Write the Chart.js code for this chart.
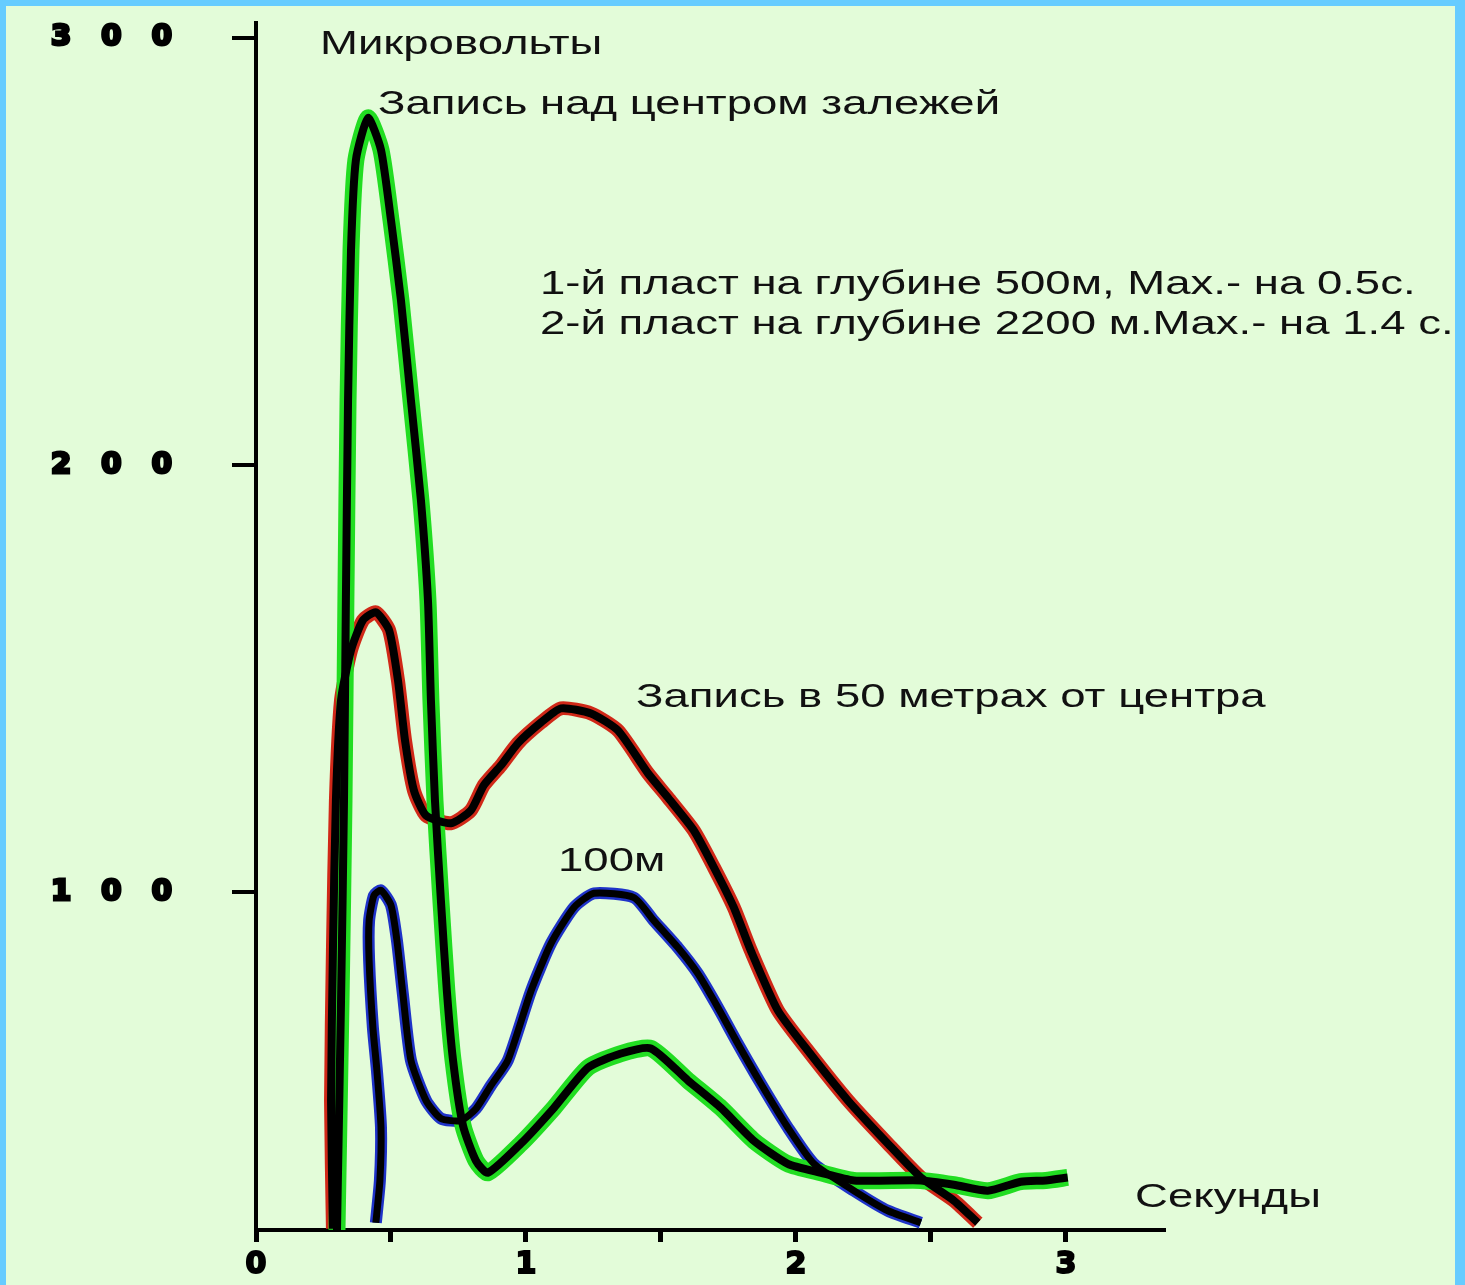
<!DOCTYPE html>
<html>
<head>
<meta charset="utf-8">
<script src="https://cdn.jsdelivr.net/npm/chart.js@4.4.0/dist/chart.umd.min.js"></script>
<style>
    html, body { margin: 0; padding: 0; width: 1465px; height: 1285px; overflow: hidden; background: #66ccff; }
    #paper { position: absolute; left: 6px; top: 6px; width: 1449px; height: 1279px; background: #e3fcd9; }
    #wrap { position: absolute; left: 0; top: 0; width: 1465px; height: 1285px; }
</style>
</head>
<body>
<div id="paper"></div>
<div id="wrap"><canvas id="chart"></canvas></div>
<script>
// Запись над центром залежей (зелёная)
const centerTime  = [0.30, 0.315, 0.326, 0.333, 0.341, 0.352, 0.370, 0.415, 0.463, 0.500, 0.537, 0.574, 0.611, 0.637, 0.648, 0.663, 0.685, 0.707, 0.730, 0.767, 0.815, 0.859, 0.981, 1.104, 1.230, 1.352, 1.463, 1.600, 1.722, 1.844, 1.970, 2.093, 2.215, 2.463, 2.585, 2.711, 2.833, 2.926, 3.007];
const centerVolts = [21, 74.7, 121.5, 168.4, 215.2, 250.4, 271.4, 281.3, 273.8, 257.4, 238.6, 215.2, 191.8, 168.4, 145.0, 121.5, 98.1, 77.0, 60.7, 45.4, 37.2, 34.4, 41.2, 49.6, 59.0, 62.3, 63.5, 56.0, 49.6, 41.9, 36.5, 34.4, 32.6, 32.6, 31.6, 30.2, 32.3, 32.6, 33.3];

// Запись в 50 метрах от центра (красная)
const m50Time  = [0.285, 0.278, 0.285, 0.296, 0.315, 0.352, 0.396, 0.444, 0.493, 0.526, 0.552, 0.585, 0.630, 0.722, 0.796, 0.844, 0.907, 0.970, 1.056, 1.130, 1.241, 1.341, 1.452, 1.526, 1.622, 1.696, 1.770, 1.833, 1.933, 2.044, 2.193, 2.341, 2.463, 2.585, 2.674];
const m50Volts = [21.3, 51.3, 86.4, 121.5, 145.0, 156.7, 163.7, 165.6, 161.4, 149.6, 135.6, 123.9, 118.0, 116.2, 119.2, 125.1, 129.7, 134.9, 139.8, 143.1, 141.9, 137.9, 127.9, 122.2, 114.5, 105.9, 96.5, 86.4, 72.4, 63.0, 51.3, 41.2, 33.3, 27.9, 22.7];

// 100 м (синяя)
const m100Time  = [0.444, 0.459, 0.463, 0.448, 0.433, 0.419, 0.419, 0.437, 0.463, 0.500, 0.522, 0.544, 0.574, 0.630, 0.685, 0.759, 0.815, 0.870, 0.933, 1.019, 1.093, 1.178, 1.252, 1.400, 1.474, 1.563, 1.637, 1.711, 1.785, 1.870, 1.970, 2.067, 2.215, 2.341, 2.463];
const m100Volts = [22.7, 32.6, 45.0, 58.3, 68.4, 84.1, 93.4, 99.3, 100.5, 97.0, 88.8, 76.3, 60.7, 51.3, 47.1, 46.6, 49.4, 54.8, 60.7, 77.0, 88.1, 96.5, 99.8, 98.8, 93.4, 87.1, 81.0, 73.1, 64.6, 55.3, 45.0, 36.5, 30.2, 25.5, 22.7];

const xTicks = [0, 0.5, 1, 1.5, 2, 2.5, 3];
const yTicks = [100, 200, 300];

const notes = [
    'Микровольты',
    'Запись над центром залежей',
    '1-й пласт на глубине 500м, Max.- на 0.5с.',
    '2-й пласт на глубине 2200 м.Max.- на 1.4 с.',
    'Запись в 50 метрах от центра',
    '100м',
    'Секунды'
];

function toPoints(xs, ys) {
    return xs.map((x, i) => ({ x: x, y: ys[i] }));
}

function trace(data, color, width) {
    return {
        data: data,
        borderColor: color,
        borderWidth: width,
        pointRadius: 0,
        tension: 0.2,
        fill: false
    };
}

const centerData = toPoints(centerTime, centerVolts);
const m50Data = toPoints(m50Time, m50Volts);
const m100Data = toPoints(m100Time, m100Volts);

// подписи на поле графика (растянуты по горизонтали, как на скане)
const notesPlugin = {
    id: 'notes',
    afterDraw(chart) {
        const ctx = chart.ctx;
        const place = [
            [320, 45], [378, 105], [540, 285], [540, 325], [636, 698], [558, 862], [1135, 1198]
        ];
        ctx.save();
        ctx.font = '33px "Liberation Sans", Arial, sans-serif';
        ctx.fillStyle = '#111';
        ctx.textBaseline = 'middle';
        ctx.textAlign = 'left';
        notes.forEach((text, i) => {
            ctx.save();
            ctx.translate(place[i][0], place[i][1]);
            ctx.scale(1.38, 1);
            ctx.fillText(text, 0, 0);
            ctx.restore();
        });
        ctx.restore();
    }
};

new Chart(document.getElementById('chart'), {
    type: 'line',
    data: {
        datasets: [
            trace(centerData, '#000', 8),
            trace(m50Data, '#000', 8),
            trace(m100Data, '#000', 7),
            trace(centerData, '#22dd22', 17),
            trace(m50Data, '#d02818', 14),
            trace(m100Data, '#1f33c8', 12)
        ]
    },
    options: {
        responsive: true,
        maintainAspectRatio: false,
        animation: false,
        layout: { padding: { left: 0, top: 23, right: 302, bottom: 0 } },
        plugins: {
            legend: { display: false },
            tooltip: { enabled: false }
        },
        scales: {
            x: {
                type: 'linear',
                min: 0,
                max: 3.36,
                afterBuildTicks: s => { s.ticks = xTicks.map(v => ({ value: v })); },
                afterFit: s => { s.height = 55; s.paddingLeft = 0; s.paddingRight = 0; },
                border: { display: true, color: '#000', width: 4 },
                grid: { drawOnChartArea: false, drawTicks: true, color: '#000', lineWidth: 5, tickLength: 12 },
                ticks: {
                    autoSkip: false,
                    maxRotation: 0,
                    padding: 5,
                    color: '#000',
                    textStrokeColor: '#000',
                    textStrokeWidth: 2,
                    font: { family: '"DejaVu Sans", sans-serif', weight: 'bold', size: 30 },
                    callback: v => Number.isInteger(v) ? String(v) : ''
                }
            },
            y: {
                min: 21,
                max: 303.5,
                afterBuildTicks: s => { s.ticks = yTicks.map(v => ({ value: v })); },
                afterFit: s => { s.width = 256; s.paddingTop = 0; s.paddingBottom = 0; },
                border: { display: true, color: '#000', width: 4 },
                grid: { drawOnChartArea: false, drawTicks: true, color: '#000', lineWidth: 4, tickLength: 24 },
                ticks: {
                    padding: 60,
                    color: '#000',
                    textStrokeColor: '#000',
                    textStrokeWidth: 3,
                    font: { family: '"DejaVu Sans", sans-serif', weight: 'bold', size: 29 },
                    callback: v => String(v).split('').join('   ')
                }
            }
        }
    },
    plugins: [notesPlugin]
});
</script>
</body>
</html>
